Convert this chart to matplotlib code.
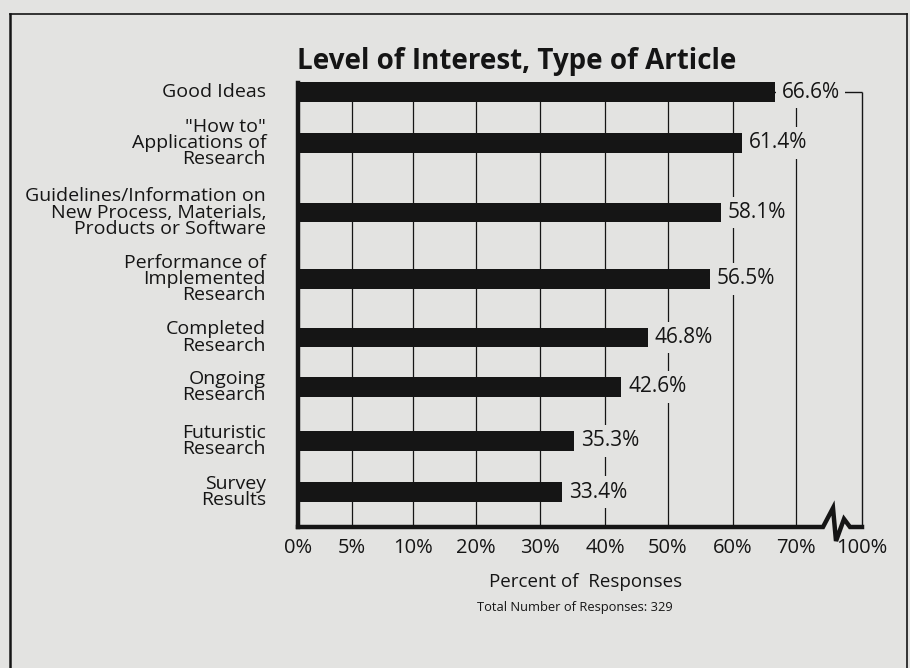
import numpy as np
import matplotlib
matplotlib.use("Agg")
import matplotlib.pyplot as plt
from matplotlib.lines import Line2D
from matplotlib.transforms import blended_transform_factory

plt.rcParams['font.family'] = ['Open Sans', 'DejaVu Sans']

# data
categories = [
    'Good Ideas',
    '"How to"\nApplications of\nResearch',
    'Guidelines/Information on\nNew Process, Materials,\nProducts or Software',
    'Performance of\nImplemented\nResearch',
    'Completed\nResearch',
    'Ongoing\nResearch',
    'Futuristic\nResearch',
    'Survey\nResults',
]
values = [66.6, 61.4, 58.1, 56.5, 46.8, 42.6, 35.3, 33.4]
tick_values = [0, 5, 10, 20, 30, 40, 50, 60, 70, 100]
tick_labels = ['0%', '5%', '10%', '20%', '30%', '40%', '50%', '60%', '70%', '100%']

# layout (pixel units of the picture, y measured from the top)
W, H = 910, 668
AX_L, AX_R, AX_T, AX_B = 298, 862, 83, 527
row_y = [92, 143, 212.5, 279, 337.5, 387, 441, 492]
# the printed axis is not linear: slot of each tick along the axis
tick_slots = [0, 0.862, 1.835, 2.84, 3.86, 4.90, 5.90, 6.94, 7.95, 9.0]

BG = '#e3e3e1'
INK = '#151515'

def fwd(v):
    return np.interp(v, tick_values, tick_slots)

def inv(s):
    return np.interp(s, tick_slots, tick_values)

fig = plt.figure(figsize=(W / 100, H / 100), dpi=100, facecolor=BG)
ax = fig.add_axes([AX_L / W, 1 - AX_B / H, (AX_R - AX_L) / W, (AX_B - AX_T) / H])
ax.set_facecolor(BG)
ax.set_xscale('function', functions=(fwd, inv))
ax.set_xlim(0, 100)
ax.set_ylim(AX_B, AX_T)

# grid lines, right border and top dash
ax.vlines(tick_values[1:-1], row_y[0], AX_B, color=INK, lw=0.9, zorder=0.5)
ax.vlines(100, row_y[0], AX_B, color=INK, lw=1.0, zorder=0.5, clip_on=False)
ax.hlines(row_y[0], 0, 100, color=INK, lw=1.0, zorder=0.5, clip_on=False)

ax.barh(row_y, values, height=19.5, color=INK, zorder=2, clip_on=False)

for v, y in zip(values, row_y):
    ax.annotate(f'{v}%', xy=(v, y), xytext=(5, 0), textcoords='offset points',
                ha='left', va='center', fontsize=15, color=INK, zorder=3,
                bbox=dict(boxstyle='square,pad=0.25', fc=BG, ec='none'))

# axes styling
for s in ['top', 'right', 'bottom']:
    ax.spines[s].set_visible(False)
ax.spines['left'].set_linewidth(3.2)
ax.spines['left'].set_color(INK)

ax.set_yticks(row_y)
ax.set_yticklabels(categories, ha='right', multialignment='right', linespacing=0.86)
for t in ax.get_yticklabels():
    t.set_va('center')
ax.tick_params(axis='y', length=0, pad=23, labelsize=14, labelcolor=INK)
ax.set_xticks(tick_values)
ax.set_xticklabels(tick_labels)
ax.tick_params(axis='x', length=0, pad=8, labelsize=14.5, labelcolor=INK)
ax.xaxis.set_minor_locator(matplotlib.ticker.NullLocator())

# bottom axis with a break before 100%
trans = blended_transform_factory(ax.transAxes, ax.transData)
brk_x = [298, 823, 833, 836, 844, 850, 862]
brk_y = [527, 527, 508, 541, 519, 527, 527]
ax.plot([(x - AX_L) / (AX_R - AX_L) for x in brk_x], brk_y, color=INK, lw=3.2,
        transform=trans, clip_on=False, zorder=4, solid_joinstyle='miter')

# texts
fig.text(297 / W, 1 - 62 / H, 'Level of Interest, Type of Article', fontsize=20,
         fontweight='bold', va='center', ha='left', color=INK)
fig.text(586 / W, 1 - 582 / H, 'Percent of  Responses', fontsize=13.5,
         va='center', ha='center', color=INK)
fig.text(575 / W, 1 - 608 / H, 'Total Number of Responses: 329', fontsize=9.3,
         va='center', ha='center', color=INK)

# outer frame
top = 1 - 14 / H
fig.add_artist(Line2D([10 / W, 10 / W], [0, top], color=INK, lw=1.8))
fig.add_artist(Line2D([10 / W, 907 / W], [top, top], color=INK, lw=1.2))
fig.add_artist(Line2D([907 / W, 907 / W], [0, top], color=INK, lw=1.2))

fig.savefig('out.png', dpi=100, facecolor=BG)
